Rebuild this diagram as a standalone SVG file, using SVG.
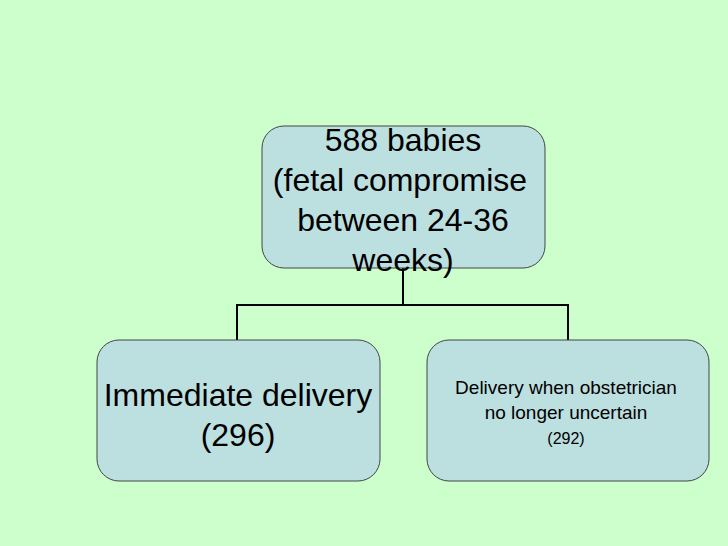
<svg xmlns="http://www.w3.org/2000/svg" width="728" height="546" viewBox="0 0 728 546">
<style>
.box{fill:#bcdfe0;stroke:#444;stroke-width:1}
.t{font-family:"Liberation Sans",Arial,sans-serif;fill:#000;text-anchor:middle}
.c{stroke:#000;stroke-width:2;fill:none}
</style>
<rect width="728" height="546" fill="#ccffcc"/>
<g id="connectors">
<path class="c" d="M403,268 V305 M237,305 H568 M237,304 V340 M568,304 V340"/>
</g>
<g id="top">
<rect class="box" x="262" y="126" width="283" height="142" rx="22"/>
<text class="t" font-size="32"><tspan x="403" y="151">588 babies</tspan><tspan x="400" y="191">(fetal compromise</tspan><tspan x="403" y="231">between 24-36</tspan><tspan x="403" y="271">weeks)</tspan></text>
</g>
<g id="left">
<rect class="box" x="97" y="340" width="283" height="141" rx="22"/>
<text class="t" font-size="32"><tspan x="238" y="406">Immediate delivery</tspan><tspan x="238" y="446">(296)</tspan></text>
</g>
<g id="right">
<rect class="box" x="427" y="340" width="282" height="141" rx="22"/>
<text class="t" font-size="19"><tspan x="566" y="394">Delivery when obstetrician</tspan><tspan x="566" y="419">no longer uncertain</tspan><tspan x="566" y="444" font-size="16">(292)</tspan></text>
</g>
</svg>
